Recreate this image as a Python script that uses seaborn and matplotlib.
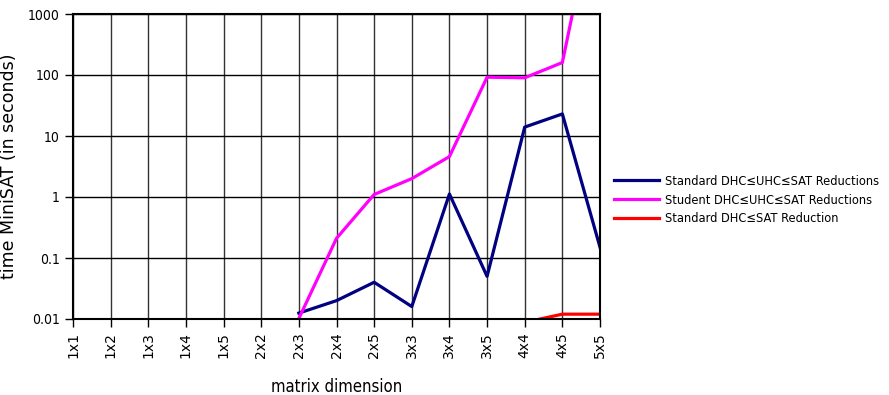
import numpy as np
import pandas as pd
import matplotlib
matplotlib.use('Agg')
import matplotlib.pyplot as plt
import seaborn as sns

dims = ['1x1', '1x2', '1x3', '1x4', '1x5', '2x2', '2x3', '2x4', '2x5',
        '3x3', '3x4', '3x5', '4x4', '4x5', '5x5']
nan = np.nan
std_uhc = [nan, nan, nan, nan, nan, nan, 0.0125, 0.02, 0.04,
           0.016, 1.12, 0.05, 14, 23, 0.15]
stu_uhc = [nan, nan, nan, nan, nan, nan, 0.0102, 0.21, 1.1,
           2.0, 4.6, 92, 90, 160, 150000]
std_sat = [nan, nan, nan, nan, nan, nan, nan, nan, nan,
           nan, nan, nan, 0.0088, 0.012, 0.012]
series_names = ['Standard DHC≤UHC≤SAT Reductions',
                'Student DHC≤UHC≤SAT Reductions',
                'Standard DHC≤SAT Reduction']
colors = ['#000080', '#ff00ff', '#ff0000']

frames = []
for name, vals in zip(series_names, [std_uhc, stu_uhc, std_sat]):
    frames.append(pd.DataFrame({'pos': np.arange(len(dims)), 'time': vals, 'series': name}))
data = pd.concat(frames).dropna()

fig = plt.figure(figsize=(8.89, 3.95), dpi=100)
ax = fig.add_axes([73 / 889, 76 / 395, 527 / 889, 305 / 395])

sns.lineplot(data=data, x='pos', y='time', hue='series', hue_order=series_names,
             palette=dict(zip(series_names, colors)), linewidth=2.3, ax=ax,
             estimator=None, sort=True)

ax.set_yscale('log')
ax.set_ylim(0.01, 1000)
ax.set_xlim(0, len(dims) - 1)
ax.set_yticks([0.01, 0.1, 1, 10, 100, 1000])
ax.set_yticklabels(['0.01', '0.1', '1', '10', '100', '1000'], fontsize=10, fontstretch='condensed')
ax.minorticks_off()
ax.set_xticks(np.arange(len(dims)))
ax.set_xticklabels(dims, rotation=90, fontsize=10)
ax.tick_params(direction='out', length=6, width=1, color='black')
ax.grid(axis='x', color='#333333', linewidth=1)
ax.grid(axis='y', color='black', linewidth=1)
for s in ax.spines.values():
    s.set_linewidth(1.5)
    s.set_color('black')

ax.set_xlabel('matrix dimension', fontsize=12, fontstretch='condensed', labelpad=14)
ax.set_ylabel('time MiniSAT (in seconds)', fontsize=12.5, labelpad=7)

ax.legend(loc='center left', bbox_to_anchor=(1.005, 0.39), frameon=False,
          prop={'size': 9.2, 'stretch': 'condensed'}, handlelength=3.5,
          handletextpad=0.5, labelspacing=0.45)

fig.savefig('out.png', dpi=100)
